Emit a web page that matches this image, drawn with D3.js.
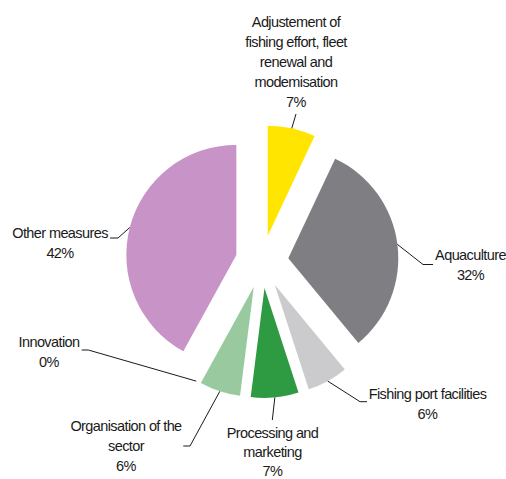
<!DOCTYPE html>
<html>
<head>
<meta charset="utf-8">
<script src="https://cdn.jsdelivr.net/npm/d3@7"></script>
<style>
  html, body { margin: 0; padding: 0; background: #fff; }
  svg { display: block; }
  .lbl { font-family: "Liberation Sans", Arial, sans-serif; font-size: 14.5px; letter-spacing: -0.6px; fill: #1a1a1a; }
</style>
</head>
<body>
<svg id="chart" width="506" height="479"></svg>
<script>
// Share of funding by measure (%), clockwise from 12 o'clock
const categories = [
  "Adjustement of fishing effort, fleet renewal and modernisation",
  "Aquaculture",
  "Fishing port facilities",
  "Processing and marketing",
  "Organisation of the sector",
  "Innovation",
  "Other measures"
];
const values = [7, 32, 6, 7, 6, 0, 42];
// category names as they wrap in the labels
const labelLines = [
  ["Adjustement of", "fishing effort, fleet", "renewal and", "modemisation"],
  ["Aquaculture"],
  ["Fishing port facilities"],
  ["Processing and", "marketing"],
  ["Organisation of the", "sector"],
  ["Innovation"],
  ["Other measures"]
];
const colors = ["#FFE500", "#7F7E83", "#CBCBCD", "#2E9A42", "#99CA9F", "#99CA9F", "#C893C6"];

// layout
const cx = 262, cy = 261.5, R = 110, explode = 26.5;
// label anchor (centre x, first baseline, line step) and leader bends from label side toward the slice
const labelPos = [
  { x: 296,   y: 27,    lh: 20,   bends: [[296, 114]] },
  { x: 470.5, y: 260,   lh: 20,   bends: [[433, 264.5], [423, 264.5]] },
  { x: 427.5, y: 399,   lh: 20,   bends: [[367, 401.7], [360, 401.7]] },
  { x: 272.5, y: 437.5, lh: 19.3, bends: [[272.3, 420]] },
  { x: 126,   y: 430.5, lh: 20,   bends: [[183.3, 446], [190, 446]] },
  { x: 49,    y: 346.5, lh: 20,   bends: [[81.7, 350], [88.3, 350]] },
  { x: 60,    y: 238,   lh: 20,   bends: [[110, 238], [118, 238]] }
];

const svg = d3.select("#chart");
const g = svg.append("g").attr("transform", `translate(${cx},${cy})`);

const total = d3.sum(values);
const pie = d3.pie().sort(null).value(d => d).startAngle(0).endAngle(2 * Math.PI);
const arcs = pie(values);
const arc = d3.arc().innerRadius(0).outerRadius(R);
const rim = d3.arc().innerRadius(R).outerRadius(R);

function offset(d) {
  const a = (d.startAngle + d.endAngle) / 2;
  return [explode * Math.sin(a), -explode * Math.cos(a)];
}

g.selectAll("path.slice")
  .data(arcs)
  .join("path")
  .attr("class", "slice")
  .attr("d", arc)
  .attr("fill", (d, i) => colors[i])
  .attr("transform", d => { const [dx, dy] = offset(d); return `translate(${dx},${dy})`; });

// leader lines
const line = d3.line();
arcs.forEach((d, i) => {
  const [dx, dy] = offset(d);
  const c = rim.centroid(d);
  const end = [cx + dx + c[0], cy + dy + c[1]];
  const pts = labelPos[i].bends.concat([end]);
  svg.append("path")
    .attr("d", line(pts))
    .attr("fill", "none")
    .attr("stroke", "#1a1a1a")
    .attr("stroke-width", 1);
});

// labels: name lines + percentage
const fmt = v => Math.round(v / total * 100) + "%";
arcs.forEach((d, i) => {
  const p = labelPos[i];
  const lines = labelLines[i].concat([fmt(values[i])]);
  const t = svg.append("text")
    .attr("class", "lbl")
    .attr("text-anchor", "middle")
    .attr("x", p.x)
    .attr("y", p.y);
  lines.forEach((s, k) => {
    t.append("tspan")
      .attr("x", p.x)
      .attr("y", p.y + k * p.lh)
      .text(s);
  });
});
</script>
</body>
</html>
